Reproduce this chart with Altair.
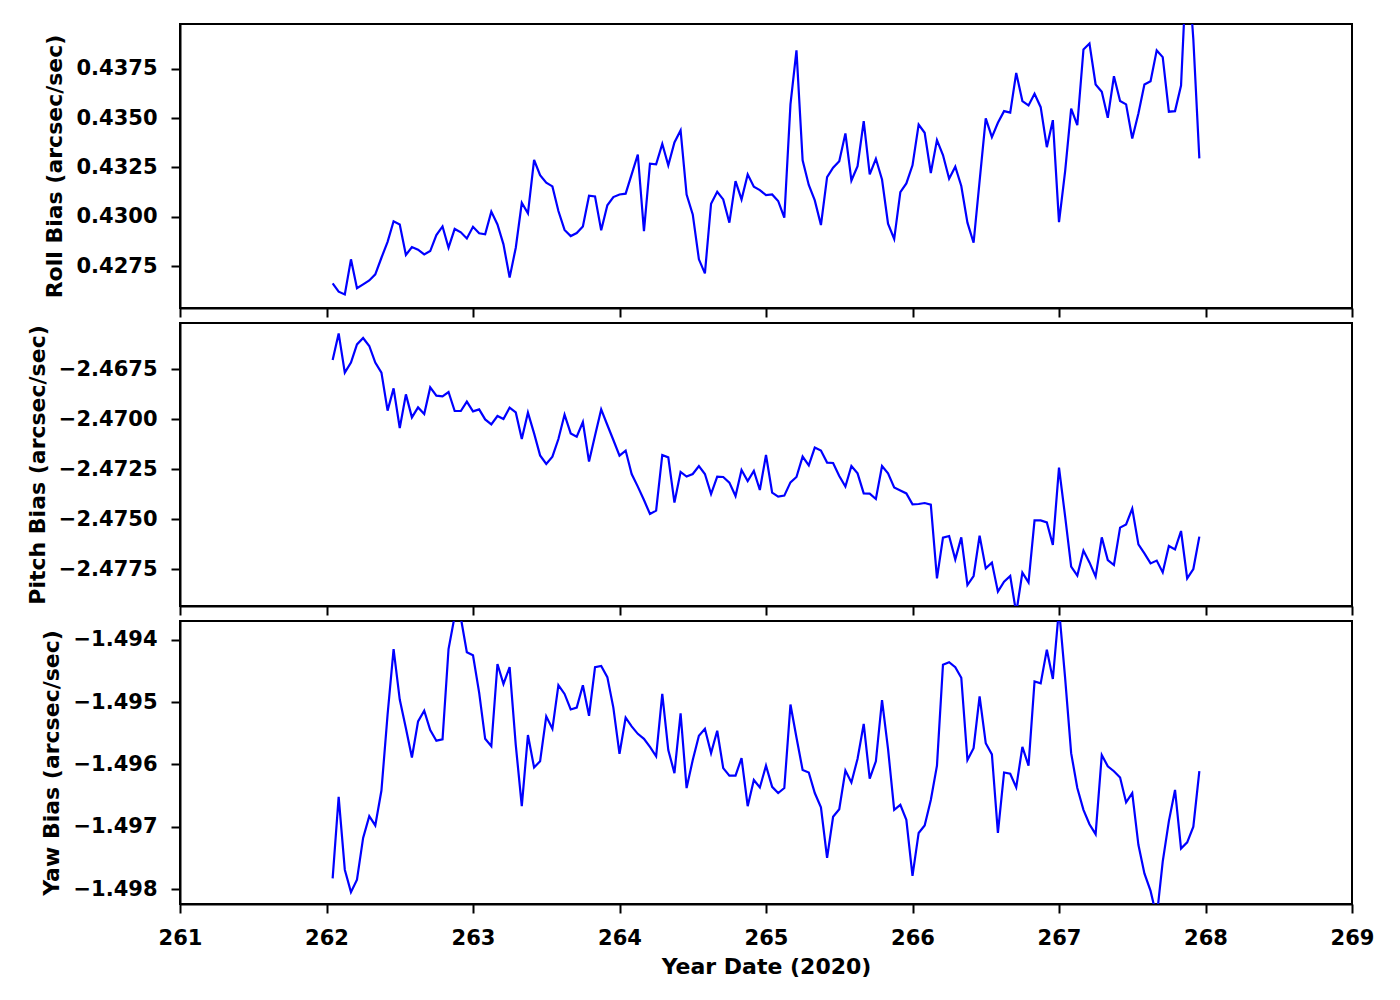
import altair as alt
import pandas as pd

# Year Date (2020) sample times (hourly)
days = [
    262.042, 262.083, 262.125, 262.167, 262.208, 262.250, 262.292, 262.333, 262.375, 262.417,
    262.458, 262.500, 262.542, 262.583, 262.625, 262.667, 262.708, 262.750, 262.792, 262.833,
    262.875, 262.917, 262.958,
    263.000, 263.042, 263.083, 263.125, 263.167, 263.208, 263.250, 263.292, 263.333, 263.375,
    263.417, 263.458, 263.500, 263.542, 263.583, 263.625, 263.667, 263.708, 263.750, 263.792,
    263.833, 263.875, 263.917, 263.958,
    264.000, 264.042, 264.083, 264.125, 264.167, 264.208, 264.250, 264.292, 264.333, 264.375,
    264.417, 264.458, 264.500, 264.542, 264.583, 264.625, 264.667, 264.708, 264.750, 264.792,
    264.833, 264.875, 264.917, 264.958,
    265.000, 265.042, 265.083, 265.125, 265.167, 265.208, 265.250, 265.292, 265.333, 265.375,
    265.417, 265.458, 265.500, 265.542, 265.583, 265.625, 265.667, 265.708, 265.750, 265.792,
    265.833, 265.875, 265.917, 265.958,
    266.000, 266.042, 266.083, 266.125, 266.167, 266.208, 266.250, 266.292, 266.333, 266.375,
    266.417, 266.458, 266.500, 266.542, 266.583, 266.625, 266.667, 266.708, 266.750, 266.792,
    266.833, 266.875, 266.917, 266.958,
    267.000, 267.042, 267.083, 267.125, 267.167, 267.208, 267.250, 267.292, 267.333, 267.375,
    267.417, 267.458, 267.500, 267.542, 267.583, 267.625, 267.667, 267.708, 267.750, 267.792,
    267.833, 267.875, 267.917, 267.958,
]

roll = [
    0.42662, 0.42620, 0.42606, 0.42784, 0.42637, 0.42657, 0.42677, 0.42708, 0.42792, 0.42873,
    0.42977, 0.42961, 0.42806, 0.42846, 0.42833, 0.42809, 0.42826, 0.42907, 0.42951, 0.42843,
    0.42938, 0.42921, 0.42890, 0.42949, 0.42916, 0.42911, 0.43026, 0.42961, 0.42860, 0.42691,
    0.42843, 0.43071, 0.43017, 0.43288, 0.43211, 0.43173, 0.43154, 0.43029, 0.42933, 0.42902,
    0.42917, 0.42951, 0.43107, 0.43103, 0.42931, 0.43058, 0.43100, 0.43113, 0.43117, 0.43215,
    0.43316, 0.42927, 0.43269, 0.43266, 0.43370, 0.43261, 0.43377, 0.43438, 0.43113, 0.43012,
    0.42784, 0.42713, 0.43066, 0.43127, 0.43088, 0.42970, 0.43181, 0.43088, 0.43215, 0.43152,
    0.43135, 0.43110, 0.43113, 0.43080, 0.42995, 0.43570, 0.43844, 0.43286, 0.43161, 0.43083,
    0.42958, 0.43201, 0.43249, 0.43282, 0.43423, 0.43184, 0.43257, 0.43485, 0.43215, 0.43294,
    0.43189, 0.42965, 0.42887, 0.43125, 0.43169, 0.43261, 0.43468, 0.43426, 0.43222, 0.43389,
    0.43313, 0.43193, 0.43254, 0.43156, 0.42970, 0.42868, 0.43181, 0.43499, 0.43404, 0.43477,
    0.43536, 0.43528, 0.43730, 0.43587, 0.43565, 0.43624, 0.43556, 0.43353, 0.43490, 0.42973,
    0.43232, 0.43549, 0.43465, 0.43849, 0.43879, 0.43671, 0.43634, 0.43502, 0.43713, 0.43587,
    0.43570, 0.43397, 0.43524, 0.43671, 0.43688, 0.43844, 0.43810, 0.43533, 0.43536, 0.43666,
    0.44340, 0.43900, 0.43296,
]

pitch = [
    -2.46705, -2.46572, -2.46768, -2.46718, -2.46627, -2.46595, -2.46635, -2.46718, -2.46768, -2.46958,
    -2.46847, -2.47045, -2.46877, -2.46992, -2.46942, -2.46975, -2.46842, -2.46883, -2.46887, -2.46865,
    -2.46960, -2.46960, -2.46913, -2.46962, -2.46952, -2.47002, -2.47027, -2.46985, -2.47000, -2.46943,
    -2.46967, -2.47100, -2.46968, -2.47072, -2.47182, -2.47225, -2.47188, -2.47100, -2.46978, -2.47072,
    -2.47088, -2.47015, -2.47213, -2.47082, -2.46952, -2.47030, -2.47105, -2.47183, -2.47158, -2.47275,
    -2.47338, -2.47405, -2.47475, -2.47458, -2.47180, -2.47192, -2.47418, -2.47265, -2.47288, -2.47275,
    -2.47235, -2.47275, -2.47375, -2.47288, -2.47290, -2.47318, -2.47385, -2.47255, -2.47310, -2.47260,
    -2.47355, -2.47180, -2.47368, -2.47388, -2.47383, -2.47317, -2.47290, -2.47188, -2.47232, -2.47143,
    -2.47158, -2.47218, -2.47220, -2.47285, -2.47338, -2.47235, -2.47272, -2.47372, -2.47373, -2.47400,
    -2.47235, -2.47272, -2.47342, -2.47357, -2.47372, -2.47427, -2.47425, -2.47420, -2.47428, -2.47797,
    -2.47593, -2.47585, -2.47702, -2.47592, -2.47830, -2.47785, -2.47583, -2.47747, -2.47718, -2.47863,
    -2.47813, -2.47785, -2.47970, -2.47768, -2.47817, -2.47507, -2.47507, -2.47517, -2.47630, -2.47243,
    -2.47488, -2.47738, -2.47783, -2.47658, -2.47717, -2.47788, -2.47592, -2.47705, -2.47730, -2.47543,
    -2.47527, -2.47448, -2.47627, -2.47672, -2.47722, -2.47708, -2.47767, -2.47635, -2.47652, -2.47560,
    -2.47797, -2.47750, -2.47588,
]

yaw = [
    -1.49783, -1.49652, -1.49769, -1.49805, -1.49785, -1.49718, -1.49683, -1.49698, -1.49642, -1.49520,
    -1.49415, -1.49496, -1.49542, -1.49589, -1.49531, -1.49514, -1.49545, -1.49562, -1.49560, -1.49415,
    -1.49362, -1.49365, -1.49420, -1.49425, -1.49485, -1.49559, -1.49571, -1.49439, -1.49471, -1.49444,
    -1.49569, -1.49667, -1.49553, -1.49605, -1.49595, -1.49523, -1.49543, -1.49473, -1.49487, -1.49512,
    -1.49509, -1.49473, -1.49522, -1.49444, -1.49442, -1.49460, -1.49509, -1.49583, -1.49525, -1.49539,
    -1.49551, -1.49559, -1.49572, -1.49587, -1.49487, -1.49577, -1.49614, -1.49518, -1.49638, -1.49593,
    -1.49554, -1.49543, -1.49582, -1.49546, -1.49606, -1.49618, -1.49618, -1.49590, -1.49667, -1.49625,
    -1.49637, -1.49602, -1.49636, -1.49646, -1.49638, -1.49504, -1.49557, -1.49609, -1.49613, -1.49646,
    -1.49669, -1.49750, -1.49684, -1.49672, -1.49610, -1.49629, -1.49591, -1.49535, -1.49623, -1.49595,
    -1.49497, -1.49575, -1.49673, -1.49665, -1.49689, -1.49779, -1.49710, -1.49698, -1.49657, -1.49602,
    -1.49440, -1.49436, -1.49444, -1.49461, -1.49593, -1.49574, -1.49491, -1.49566, -1.49584, -1.49710,
    -1.49613, -1.49615, -1.49637, -1.49572, -1.49602, -1.49467, -1.49470, -1.49416, -1.49463, -1.49350,
    -1.49462, -1.49582, -1.49638, -1.49673, -1.49696, -1.49712, -1.49585, -1.49603, -1.49611, -1.49621,
    -1.49661, -1.49646, -1.49729, -1.49775, -1.49803, -1.49845, -1.49756, -1.49691, -1.49641, -1.49735,
    -1.49725, -1.49700, -1.49611,
]

x_ticks = [261, 262, 263, 264, 265, 266, 267, 268, 269]
roll_ticks = [0.4275, 0.4300, 0.4325, 0.4350, 0.4375]
pitch_ticks = [-2.4775, -2.4750, -2.4725, -2.4700, -2.4675]
yaw_ticks = [-1.498, -1.497, -1.496, -1.495, -1.494]

df = pd.DataFrame({"day": days, "roll": roll, "pitch": pitch, "yaw": yaw})

FONT = "DejaVu Sans"


def panel(field, title, domain, ticks, fmt, bottom, height):
    if bottom:
        xaxis = alt.Axis(values=x_ticks, format="d", title="Year Date (2020)", titlePadding=8)
    else:
        xaxis = alt.Axis(values=x_ticks, labels=False, title=None)
    return (
        alt.Chart(df)
        .mark_line(color="#0000ff", strokeWidth=2.2, clip=True)
        .encode(
            x=alt.X("day:Q", scale=alt.Scale(domain=[261, 269], nice=False, zero=False), axis=xaxis),
            y=alt.Y(
                f"{field}:Q",
                scale=alt.Scale(domain=domain, nice=False, zero=False),
                axis=alt.Axis(values=ticks, format=fmt, title=title),
            ),
        )
        .properties(width=1172, height=height)
    )


p1 = panel("roll", "Roll Bias (arcsec/sec)", [0.42537, 0.43978], roll_ticks, ".4f", False, 284)
p2 = panel("pitch", "Pitch Bias (arcsec/sec)", [-2.47935, -2.46520], pitch_ticks, ".4f", False, 283)
p3 = panel("yaw", "Yaw Bias (arcsec/sec)", [-1.49824, -1.49370], yaw_ticks, ".3f", True, 283)

chart = (
    alt.vconcat(p1, p2, p3, spacing=3)
    .properties(padding={"left": 17, "top": 15, "right": 10, "bottom": 5}, background="white")
    .configure_view(stroke="black", strokeWidth=2)
    .configure_axis(
        grid=False,
        domainColor="black",
        domainWidth=2,
        tickColor="black",
        tickWidth=2,
        tickSize=9,
        labelFont=FONT,
        labelFontSize=21,
        labelFontWeight="bold",
        labelColor="black",
        labelPadding=14,
        labelFlush=False,
        titleFont=FONT,
        titleFontSize=22,
        titleFontWeight="bold",
        titleColor="black",
        titlePadding=9,
    )
    .configure_concat(spacing=3)
)

chart.save("out.html", embed_options={"renderer": "svg", "actions": False})
